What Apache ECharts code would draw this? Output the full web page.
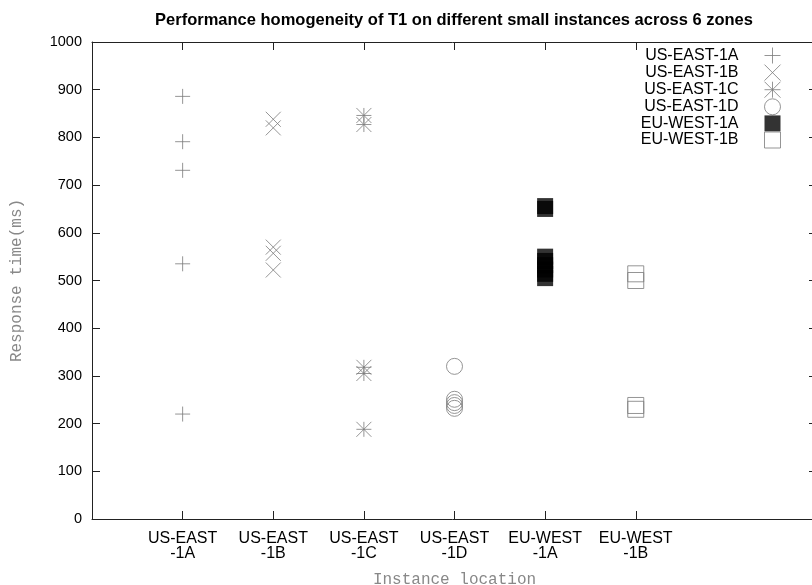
<!DOCTYPE html>
<html>
<head>
<meta charset="utf-8">
<script src="https://cdn.jsdelivr.net/npm/echarts@6/dist/echarts.min.js"></script>
<style>
html,body{margin:0;padding:0;background:#fff;}
#chart{width:812px;height:585px;}
</style>
</head>
<body>
<div id="chart"></div>
<script>
// ---- data ----
var categories = ['US-EAST\n-1A', 'US-EAST\n-1B', 'US-EAST\n-1C', 'US-EAST\n-1D', 'EU-WEST\n-1A', 'EU-WEST\n-1B'];
var seriesNames = ['US-EAST-1A', 'US-EAST-1B', 'US-EAST-1C', 'US-EAST-1D', 'EU-WEST-1A', 'EU-WEST-1B'];
var usEast1A = [886, 791, 731, 535, 220];
var usEast1B = [838, 820, 570, 557, 522];
var usEast1C = [846, 827, 318, 305, 188];
var usEast1D = [320, 251, 244, 238, 232];
var euWest1A = [656, 650, 550, 541, 532, 523, 514, 505];
var euWest1B = [514, 500, 238, 230];
var yTicks = [0, 100, 200, 300, 400, 500, 600, 700, 800, 900, 1000];
var xTickPositions = [1, 2, 3, 4, 5, 6];

var allValues = [usEast1A, usEast1B, usEast1C, usEast1D, euWest1A, euWest1B];

var PLUS = 'path://M0,5L10,5M5,0L5,10';
var CROSS = 'path://M0,0L10,10M10,0L0,10';
var STAR = 'path://M0,5L10,5M5,0L5,10M0,0L10,10M10,0L0,10';
var gray = '#7a7a7a';

var symbolDefs = [
  {symbol: PLUS, size: 15, style: {color: 'transparent', borderColor: gray, borderWidth: 1}},
  {symbol: CROSS, size: 15, style: {color: 'transparent', borderColor: gray, borderWidth: 1}},
  {symbol: STAR, size: 15, style: {color: 'transparent', borderColor: gray, borderWidth: 1}},
  {symbol: 'circle', size: 16, style: {color: 'transparent', borderColor: gray, borderWidth: 1}},
  {symbol: 'rect', size: 16, style: {color: '#000', borderColor: '#000', borderWidth: 0}},
  {symbol: 'rect', size: 16, style: {color: 'transparent', borderColor: gray, borderWidth: 1}}
];

var series = allValues.map(function (vals, i) {
  return {
    name: seriesNames[i],
    type: 'scatter',
    symbol: symbolDefs[i].symbol,
    symbolSize: symbolDefs[i].size,
    itemStyle: symbolDefs[i].style,
    emphasis: {disabled: true},
    data: vals.map(function (v) { return [i + 1, v]; })
  };
});

function axisLine() { return {show: true, onZero: false, lineStyle: {color: '#222', width: 1}}; }
function tick(extra) {
  var t = {show: true, inside: true, length: 8, lineStyle: {color: '#222', width: 1}};
  if (extra) { for (var k in extra) t[k] = extra[k]; }
  return t;
}

var chart = echarts.init(document.getElementById('chart'), null, {renderer: 'canvas'});
chart.setOption({
  animation: false,
  backgroundColor: '#fff',
  title: {
    text: 'Performance homogeneity of T1 on different small instances across 6 zones',
    left: 449,
    textAlign: 'center',
    top: 7,
    textStyle: {fontFamily: 'Liberation Sans', fontSize: 16.5, fontWeight: 'bold', color: '#000'}
  },
  legend: {
    orient: 'vertical',
    align: 'right',
    right: 31,
    top: 47,
    padding: 0,
    itemWidth: 16,
    itemHeight: 16,
    itemGap: 0.1,
    selectedMode: false,
    textStyle: {fontFamily: 'Liberation Sans', fontSize: 16, color: '#000', padding: [0, 21, 0, 0]},
    data: seriesNames.map(function (n, i) {
      return {name: n, icon: symbolDefs[i].symbol, itemStyle: symbolDefs[i].style};
    })
  },
  grid: {left: 92, top: 42, width: 725, height: 477, containLabel: false, outerBoundsMode: 'none'},
  xAxis: [{
    type: 'value', min: 0, max: 8, interval: 1, position: 'bottom',
    name: 'Instance location', nameLocation: 'middle', nameGap: 53,
    nameTextStyle: {fontFamily: 'Liberation Mono', fontSize: 16, color: '#888'},
    axisLine: axisLine(),
    axisTick: tick({customValues: xTickPositions}),
    axisLabel: {
      customValues: xTickPositions,
      fontFamily: 'Liberation Sans', fontSize: 16, color: '#000', margin: 12, lineHeight: 15,
      formatter: function (v) { return categories[v - 1] || ''; }
    },
    splitLine: {show: false}
  }, {
    type: 'value', min: 0, max: 8, interval: 1, position: 'top',
    axisLine: axisLine(),
    axisTick: tick({customValues: xTickPositions}),
    axisLabel: {show: false},
    splitLine: {show: false}
  }],
  yAxis: [{
    type: 'value', min: 0, max: 1000, interval: 100, position: 'left',
    name: 'Response time(ms)', nameLocation: 'middle', nameGap: 67, nameRotate: 90,
    nameTextStyle: {fontFamily: 'Liberation Mono', fontSize: 16, color: '#888'},
    axisLine: axisLine(),
    axisTick: tick(),
    axisLabel: {
      fontFamily: 'Liberation Sans', fontSize: 14.5, color: '#000', margin: 10,
      formatter: function (v) { return yTicks.indexOf(v) >= 0 ? String(v) : ''; }
    },
    splitLine: {show: false}
  }, {
    type: 'value', min: 0, max: 1000, interval: 100, position: 'right',
    axisLine: axisLine(),
    axisTick: tick(),
    axisLabel: {show: false},
    splitLine: {show: false}
  }],
  series: series
});
</script>
</body>
</html>
